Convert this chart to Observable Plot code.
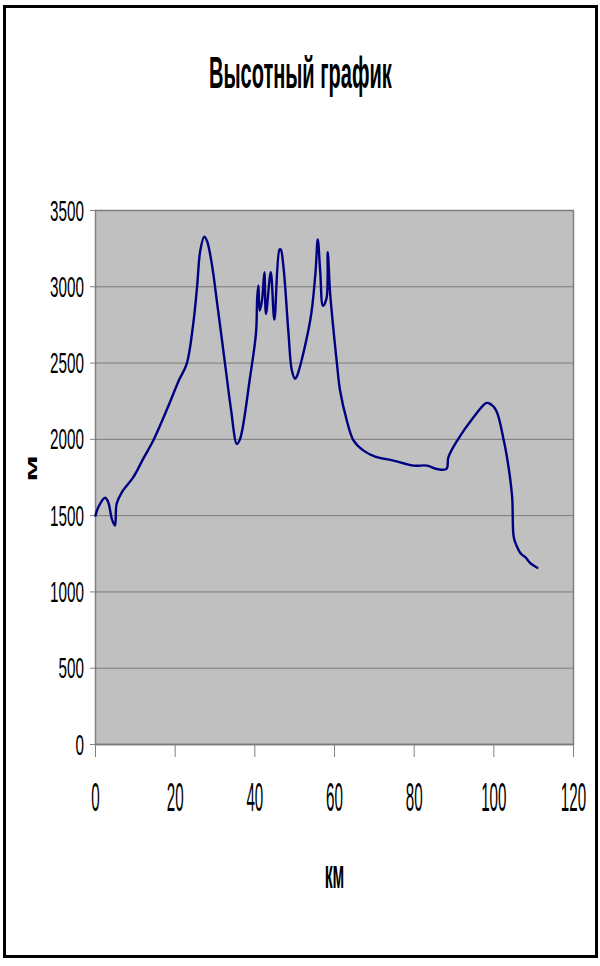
<!DOCTYPE html>
<html>
<head>
<meta charset="utf-8">
<script src="https://cdn.jsdelivr.net/npm/d3@7"></script>
<script src="https://cdn.jsdelivr.net/npm/@observablehq/plot@0.6"></script>
<style>
  html, body { margin: 0; padding: 0; background: #fff; }
  #wrap { position: relative; width: 600px; height: 966px; overflow: hidden; font-family: "Liberation Sans", Arial, sans-serif; }
  #border { position: absolute; left: 3px; top: 5px; width: 589px; height: 947px; border: 3px solid #000; box-sizing: content-box; }
  #title { position: absolute; left: 0; top: 61px; width: 600px; text-align: center; }
  #title span { display: inline-block; font-weight: bold; font-size: 24.4px; line-height: 1; transform: scale(0.82, 1.85); transform-origin: 50% 50%; color: #000; }
  #chart { position: absolute; left: 0; top: 0; }
</style>
</head>
<body>
<div id="wrap">
  <div id="border"></div>
  <div id="title"><span>Высотный график</span></div>
  <div id="chart"></div>
</div>
<script>
// distance along route, km
const km = [0, 0.7, 2.4, 3.2, 4.1, 4.9, 5.3, 6.6, 9.5, 12, 14.5, 18, 21, 22.9, 24.5, 25.5, 26.3, 27.3, 28.0, 29.2,
  30.5, 32.5, 34.0, 35.5, 36.3, 38.8, 40.3, 40.6, 40.9, 41.2, 41.8, 42.4, 42.8, 44.0, 44.9, 46.2, 46.5, 47.2, 48.4,
  49.3, 50.1, 50.5, 53.9, 55.2, 55.8, 56.4, 57.1, 58.0, 58.3, 58.9, 60.0, 60.6, 61.4, 63.1, 64.8, 67.3, 70.2, 74.8,
  79.8, 83.2, 85.7, 88.1, 88.6, 90.8, 94.9, 98.0, 98.7, 100.5, 102.5, 103.7, 104.6, 105.0, 105.7, 106.8, 107.9, 109.2, 110.9];
// elevation, m
const elevation = [1500, 1555, 1617, 1588, 1479, 1435, 1577, 1653, 1752, 1874, 1992, 2200, 2390, 2495, 2750, 3000, 3237, 3329, 3300, 3150,
  2900, 2500, 2200, 1970, 2003, 2407, 2700, 2930, 3008, 2844, 2910, 3095, 2822, 3095, 2785, 3245, 3245, 3127, 2713,
  2451, 2397, 2410, 2779, 3084, 3310, 3106, 2875, 2925, 3226, 2960, 2650, 2500, 2320, 2123, 1992, 1926, 1887, 1861,
  1828, 1828, 1806, 1806, 1883, 1992, 2145, 2237, 2237, 2193, 1992, 1817, 1621, 1358, 1304, 1250, 1228, 1188, 1158];
const xTicks = [0, 20, 40, 60, 80, 100, 120];
const yTicks = [0, 500, 1000, 1500, 2000, 2500, 3000, 3500];
const xLabel = "км";
const yLabel = "м";

const data = km.map((k, i) => ({km: k, m: elevation[i]}));
const FONT = '"Liberation Sans", Arial, sans-serif';

const plot = Plot.plot({
  width: 600,
  height: 966,
  marginTop: 210,
  marginBottom: 222,
  marginLeft: 95,
  marginRight: 27,
  style: {background: "transparent", fontFamily: FONT, overflow: "visible"},
  x: {domain: [0, 120]},
  y: {domain: [0, 3500]},
  marks: [
    Plot.frame({fill: "#c0c0c0", stroke: "#808080", strokeWidth: 1.5}),
    Plot.gridY(yTicks, {stroke: "#7a7a7a", strokeOpacity: 1, strokeWidth: 1}),
    Plot.ruleY([0], {stroke: "#7a7a7a", strokeWidth: 1.5}),
    Plot.axisY(yTicks, {tickSize: 5, stroke: "#808080", tickFormat: () => "", label: null}),
    Plot.axisX(xTicks, {tickSize: 13, stroke: "#808080", tickFormat: () => "", label: null}),
    Plot.line(data, {x: "km", y: "m", stroke: "#000080", strokeWidth: 2.4, curve: "catmull-rom"}),
    Plot.text(yTicks, {y: d => d, text: d => String(d), frameAnchor: "left", dx: -11.5, textAnchor: "end",
      fontSize: 18.6, fill: "#000"}),
    Plot.text(xTicks, {x: d => d, text: d => String(d), frameAnchor: "bottom", dy: 59, textAnchor: "middle",
      fontSize: 18.5, fill: "#000"}),
    Plot.text([xLabel], {text: d => d, frameAnchor: "bottom", dy: 136, fontSize: 19.3, fontWeight: "bold",
      fill: "#000"}),
    Plot.text([yLabel], {text: d => d, frameAnchor: "left", dx: -64.3, dy: -2, rotate: -90, fontSize: 19,
      fontWeight: "bold", fill: "#000"})
  ]
});
document.getElementById("chart").append(plot);

// the four text marks, in the order they were declared
const textGroups = plot.querySelectorAll('g[aria-label="text"]');
function stretch(group, sx, sy, anchor) {
  if (!group) return;
  group.querySelectorAll("text").forEach(el => {
    const b = el.getBBox();
    const ox = anchor === "end" ? b.x + b.width : anchor === "start" ? b.x : b.x + b.width / 2;
    const oy = b.y + b.height / 2;
    const t = el.getAttribute("transform") || "";
    el.setAttribute("transform", `${t} translate(${ox},${oy}) scale(${sx},${sy}) translate(${-ox},${-oy})`);
  });
}
stretch(textGroups[0], 0.82, 1.63, "end");
stretch(textGroups[1], 0.82, 2.19, "middle");
stretch(textGroups[2], 0.82, 2.1, "middle");
stretch(textGroups[3], 1.9, 0.91, "middle");
</script>
</body>
</html>
